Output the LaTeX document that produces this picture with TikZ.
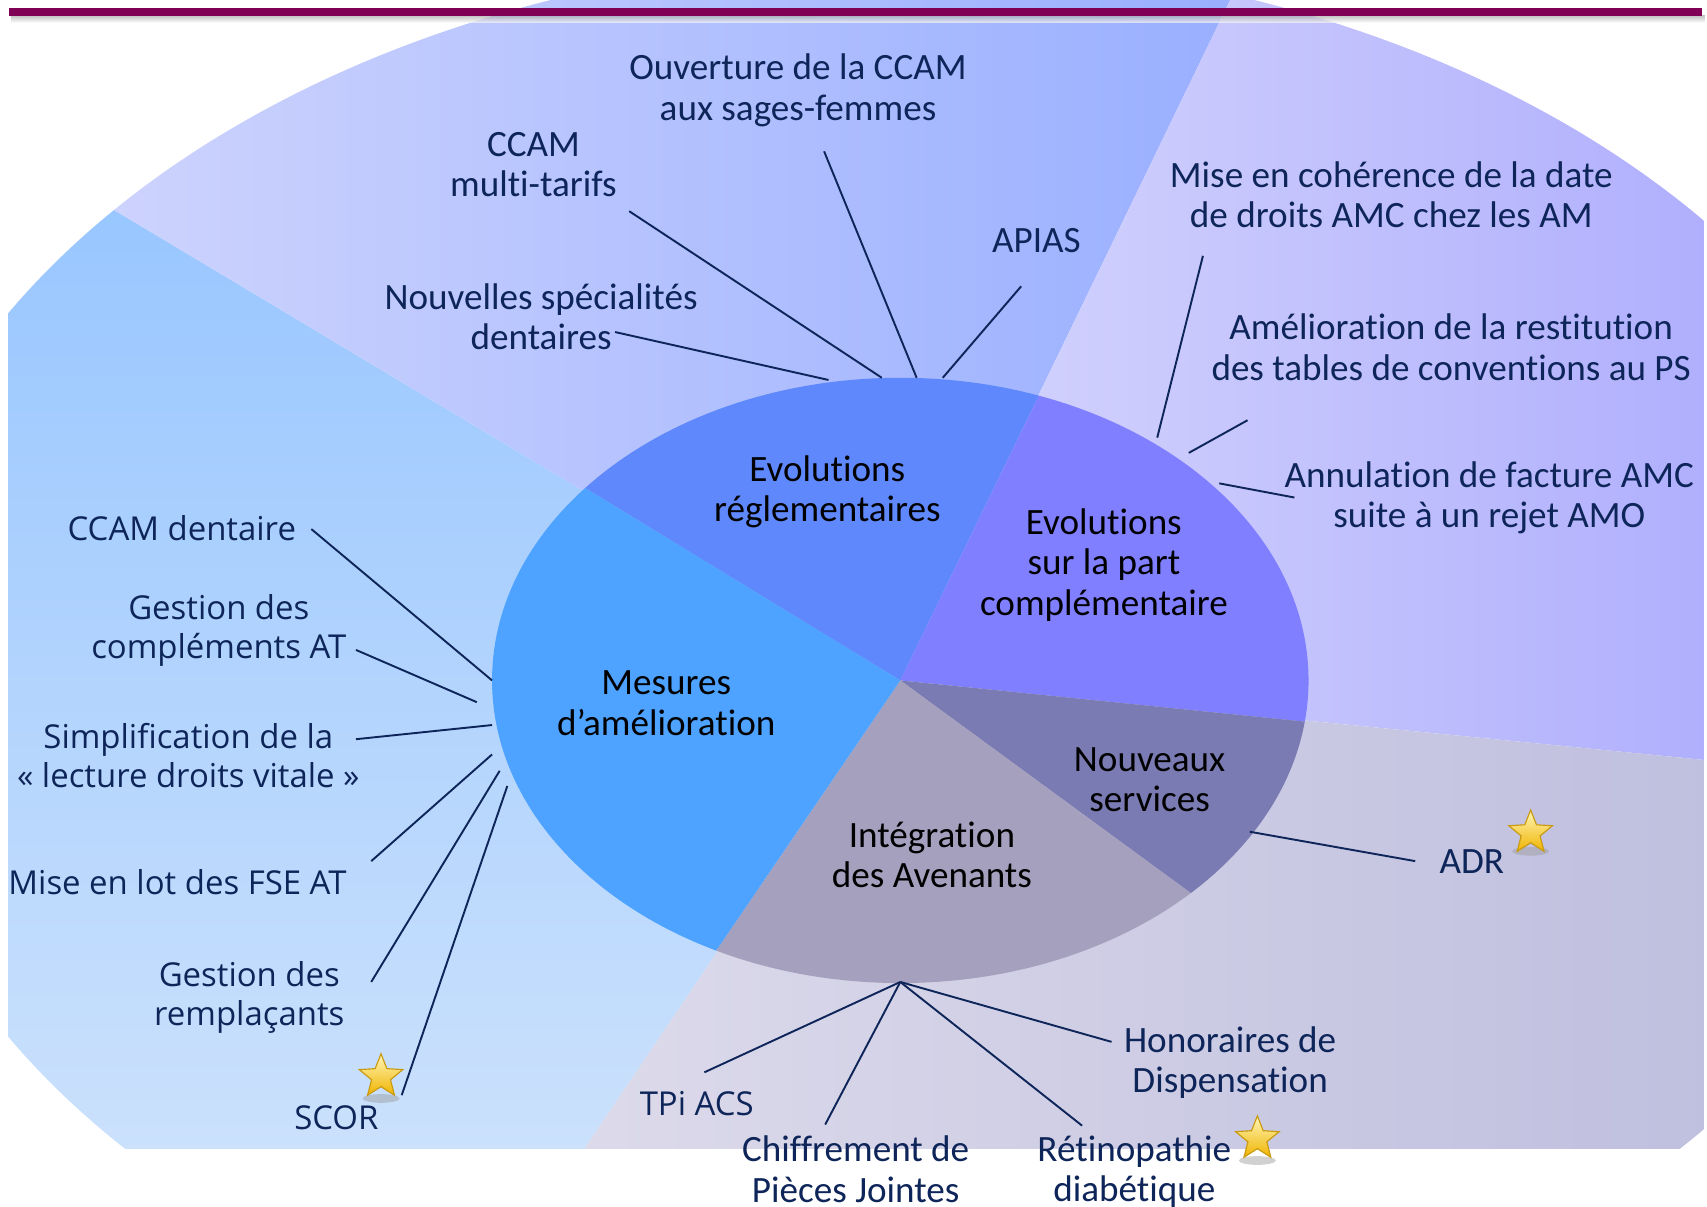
\documentclass[tikz,border=0pt]{standalone}
\usepackage{fontspec}
\setmainfont{Carlito}[Ligatures=NoCommon]
\newfontfamily\leftfont{Open Sans}
\usetikzlibrary{shapes.geometric}
\definecolor{barcol}{HTML}{800055}
\definecolor{navy}{HTML}{0E2559}
\definecolor{pMes}{HTML}{4DA3FF}
\definecolor{pReg}{HTML}{5F88FC}
\definecolor{pComp}{HTML}{7F7FFF}
\definecolor{pNouv}{HTML}{7B7BB3}
\definecolor{pInt}{HTML}{A5A0BE}
\definecolor{oLeftA}{HTML}{98C6FF}
\definecolor{oLeftB}{HTML}{CBE1FC}
\definecolor{oTopA}{HTML}{CDD3FD}
\definecolor{oTopB}{HTML}{96ADFF}
\definecolor{oRightA}{HTML}{D0D0FD}
\definecolor{oRightB}{HTML}{B0AFFD}
\definecolor{oBotA}{HTML}{DCDAEA}
\definecolor{oBotB}{HTML}{BFBFDF}
\definecolor{starA}{HTML}{FFF6B8}
\definecolor{starB}{HTML}{EFB400}
\definecolor{starD}{HTML}{C99A10}
\begin{document}
\begin{tikzpicture}[x=0.01cm,y=-0.01cm,
  lbl/.style={align=center, inner sep=0, text=navy, font=\fontsize{9.7}{10.5}\selectfont},
  lblL/.style={align=center, inner sep=0, text=navy, font=\leftfont\fontsize{8.6}{10.3}\selectfont},
  inlbl/.style={align=center, inner sep=0, text=black, font=\fontsize{9.7}{10.5}\selectfont},
  conn/.style={draw=navy, line width=0.5pt},
  starnode/.style={star, star points=5, star point ratio=2.3, minimum size=0.42cm, inner sep=0,
     top color=starA, bottom color=starB, draw=starD, line width=0.3pt},
  starshadow/.style={fill=black!40, opacity=0.45}]
\useasboundingbox (0,0) rectangle (1568,1108);

% ---------- outer ring ----------
\begin{scope}
  \clip (8,-60) rectangle (1565,1055);
  \clip (829,620) ellipse [x radius=951, y radius=659];
  % left sector
  \begin{scope}
    \clip (827,625) -- (-43,1915) -- (-1339,1915) -- (-1339,-671) -- cycle;
    \shade[top color=oLeftA, bottom color=oLeftB] (0,180) rectangle (700,1060);
  \end{scope}
  % top sector
  \begin{scope}
    \clip (827,625) -- (-1339,-671) -- (-1339,-1300) -- (1736,-1250) -- cycle;
    \shade[left color=oTopA, right color=oTopB] (100,-60) rectangle (1200,640);
  \end{scope}
  % right sector
  \begin{scope}
    \clip (827,625) -- (1736,-1250) -- (3041,-1250) -- (3041,844) -- cycle;
    \shade[left color=oRightA, right color=oRightB] (950,-60) rectangle (1570,700);
  \end{scope}
  % bottom-right sector
  \begin{scope}
    \clip (827,625) -- (3041,844) -- (3041,1915) -- (-43,1915) -- cycle;
    \shade[left color=oBotA, right color=oBotB] (530,620) rectangle (1570,1060);
  \end{scope}
\end{scope}

% ---------- top bar ----------
\shade[top color=black!35, bottom color=white, opacity=0.7] (10,14) rectangle (1566,21);
\fill[barcol] (8,7.5) rectangle (1563,14.5);

% ---------- inner pie ----------
\begin{scope}
  \clip (827,625) ellipse [x radius=375, y radius=278];
  \fill[pReg]  (827,625) -- (-43,94) -- (-43,-164) -- (1211,-164) -- cycle;
  \fill[pComp] (827,625) -- (1211,-164) -- (1946,-164) -- (1946,739) -- cycle;
  \fill[pNouv] (827,625) -- (1946,739) -- (1946,1207) -- (1622,1207) -- cycle;
  \fill[pInt]  (827,625) -- (1622,1207) -- (1622,1360) -- (326,1360) -- cycle;
  \fill[pMes]  (827,625) -- (326,1360) -- (-43,1360) -- (-43,94) -- cycle;
\end{scope}

% ---------- inner labels ----------
\node[inlbl] (ireg)  at (760,452) {Evolutions\\réglementaires};
\node[inlbl] (icomp) at (1014,519) {Evolutions\\sur la part\\complémentaire};
\node[inlbl] (imes)  at (612,646) {Mesures\\d’amélioration};
\node[inlbl] (inouv) at (1056,716) {Nouveaux\\services};
\node[inlbl] (iint)  at (856,785) {Intégration\\des Avenants};

% ---------- outer labels ----------
\node[lbl] (nouv)   at (733,83)   {Ouverture de la CCAM\\aux sages-femmes};
\node[lbl] (nmulti) at (490,151)  {CCAM\\multi-tarifs};
\node[lbl] (napias) at (952,221)  {APIAS};
\node[lbl] (nspec)  at (497,291)  {Nouvelles spécialités\\dentaires};
\node[lbl] (nmise)  at (1278,179) {Mise en cohérence de la date\\de droits AMC chez les AM};
\node[lbl] (namel)  at (1333,319) {Amélioration de la restitution\\des tables de conventions au PS};
\node[lbl] (nannul) at (1368,457) {Annulation de facture AMC\\suite à un rejet AMO};
\node[lbl] (nadr)   at (1352,791) {ADR};
\node[lbl] (nhono)  at (1130,976) {Honoraires de\\Dispensation};
\node[lbl] (nretino) at (1042,1076) {Rétinopathie\\diabétique};
\node[lbl] (nchiff) at (786,1074) {Chiffrement de\\Pièces Jointes};
\node[lblL] (ntpi)   at (640,1014) {TPi ACS};
\node[lblL] (nscor)  at (309,1027) {SCOR};
\node[lblL] (nrempl) at (229,916)  {Gestion des\\remplaçants};
\node[lblL] (nlot)   at (163,810)  {Mise en lot des FSE AT};
\node[lblL] (nsimpl) at (173,694)  {Simplification de la\\« lecture droits vitale »};
\node[lblL] (ncompl) at (201,579)  {Gestion des\\compléments AT};
\node[lblL] (nccamd) at (167,485)  {CCAM dentaire};

% ---------- connector end points ----------
\coordinate (aspec) at (565,305);   \coordinate (bspec) at (761,349);
\coordinate (amulti) at (578,194);  \coordinate (bmulti) at (810,347);
\coordinate (aouv) at (757,139);    \coordinate (bouv) at (842,347);
\coordinate (aapias) at (938,263);  \coordinate (bapias) at (866,347);
\coordinate (amise) at (1105,235);  \coordinate (bmise) at (1063,402);
\coordinate (aamel) at (1146,386);  \coordinate (bamel) at (1092,416);
\coordinate (aannul) at (1189,457); \coordinate (bannul) at (1120,444);
\coordinate (aadr) at (1300,791);   \coordinate (badr) at (1148,764);
\coordinate (pbot) at (827,902);
\coordinate (ahono) at (1021,957);
\coordinate (aretino) at (994,1034);
\coordinate (achiff) at (758,1033);
\coordinate (atpi) at (647,985);
\coordinate (ascor) at (369,1006);  \coordinate (bscor) at (466,722);
\coordinate (arempl) at (341,902);  \coordinate (brempl) at (459,708);
\coordinate (alot) at (341,791);    \coordinate (blot) at (452,693);
\coordinate (asimpl) at (327,679);  \coordinate (bsimpl) at (452,666);
\coordinate (acompl) at (327,597);  \coordinate (bcompl) at (438,645);
\coordinate (accamd) at (286,486);  \coordinate (bccamd) at (452,625);

% ---------- connectors ----------
\draw[conn] (aspec) -- (bspec);
\draw[conn] (amulti) -- (bmulti);
\draw[conn] (aouv) -- (bouv);
\draw[conn] (aapias) -- (bapias);
\draw[conn] (amise) -- (bmise);
\draw[conn] (aamel) -- (bamel);
\draw[conn] (aannul) -- (bannul);
\draw[conn] (aadr) -- (badr);
\draw[conn] (pbot) -- (ahono);
\draw[conn] (pbot) -- (aretino);
\draw[conn] (pbot) -- (achiff);
\draw[conn] (pbot) -- (atpi);
\draw[conn] (ascor) -- (bscor);
\draw[conn] (arempl) -- (brempl);
\draw[conn] (alot) -- (blot);
\draw[conn] (asimpl) -- (bsimpl);
\draw[conn] (acompl) -- (bcompl);
\draw[conn] (accamd) -- (bccamd);

% ---------- stars ----------
\fill[starshadow] (350,1009) ellipse [x radius=17, y radius=4];
\node[starnode] (sscor) at (350,989) {};
\fill[starshadow] (1406,782) ellipse [x radius=17, y radius=4];
\node[starnode] (sadr) at (1406,765) {};
\fill[starshadow] (1155,1066) ellipse [x radius=17, y radius=4];
\node[starnode] (sretino) at (1155,1046) {};
\end{tikzpicture}
\end{document}
